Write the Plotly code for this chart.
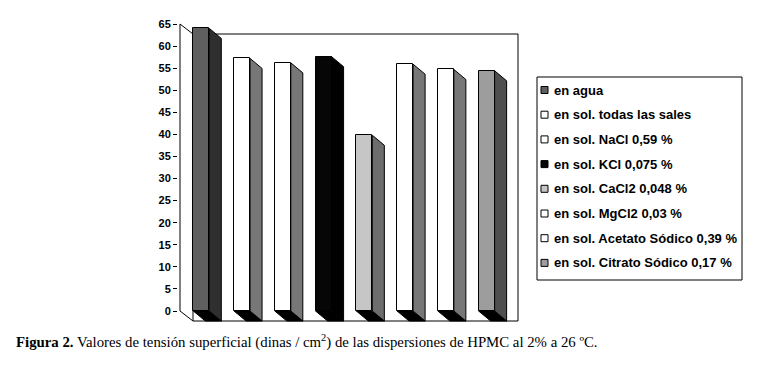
import plotly.graph_objects as go

# ---------------- data ----------------
categories = [
    "en agua",
    "en sol. todas las sales",
    "en sol. NaCl 0,59 %",
    "en sol. KCl 0,075 %",
    "en sol. CaCl2 0,048 %",
    "en sol. MgCl2 0,03 %",
    "en sol. Acetato Sódico 0,39 %",
    "en sol. Citrato Sódico 0,17 %",
]
values = [64.0, 57.2, 56.2, 57.6, 39.8, 55.9, 54.7, 54.4]
y_ticks = [0, 5, 10, 15, 20, 25, 30, 35, 40, 45, 50, 55, 60, 65]

# ---------------- style ----------------
front_colors = ["#5f5f5f", "#ffffff", "#ffffff", "#060606", "#c6c6c6", "#ffffff", "#ffffff", "#9d9d9d"]
side_colors = ["#2f2f2f", "#777777", "#777777", "#000000", "#6d6d6d", "#777777", "#777777", "#4f4f4f"]

W, H = 764, 369
OFF = 8  # page body margin: screen px -> figure px
PLOT_L, PLOT_R, PLOT_T, PLOT_B = 178 - OFF, 521 - OFF, 20 - OFF, 330 - OFF
Y0_PX, Y65_PX = 311 - OFF, 24 - OFF
PPU = (Y0_PX - Y65_PX) / 65.0          # pixels per value unit
X0_PX, XSTEP = 201.3 - OFF, 40.76      # centre of first bar front face, spacing
BAR_W = 16 / XSTEP                      # front face width in x units
DX = 12 / XSTEP                         # bar depth (x)
DY = 10 / PPU                           # bar depth (y)
AX_PX, WALL_L_PX, WALL_R_PX = 180 - OFF, 193 - OFF, 518 - OFF
pw, ph = PLOT_R - PLOT_L, PLOT_B - PLOT_T


def px2x(p):
    return (p - X0_PX) / XSTEP


def px_paper_x(p):  # p in screen px
    return (p - OFF - PLOT_L) / pw


def px_paper_y(p):  # p in screen px
    return (PLOT_B - (p - OFF)) / ph


xr = [px2x(PLOT_L), px2x(PLOT_R)]
yr = [(Y0_PX - PLOT_B) / PPU, (Y0_PX - PLOT_T) / PPU]
ymax = y_ticks[-1]

fig = go.Figure()

# bottom faces + side faces (3D effect), computed from the values
for i, v in enumerate(values):
    l, r = i - BAR_W / 2, i + BAR_W / 2
    fig.add_trace(go.Scatter(
        x=[l, r, r + DX, l + DX, l], y=[0, 0, -DY, -DY, 0],
        fill="toself", fillcolor="#000000", mode="lines",
        line=dict(color="black", width=1), showlegend=False, hoverinfo="skip"))
    fig.add_trace(go.Scatter(
        x=[r, r + DX, r + DX, r, r], y=[0, -DY, v - DY, v, 0],
        fill="toself", fillcolor=side_colors[i], mode="lines",
        line=dict(color="black", width=1), showlegend=False, hoverinfo="skip"))

# front faces
for i, (c, v) in enumerate(zip(categories, values)):
    fig.add_trace(go.Bar(
        x=[i], y=[v], width=BAR_W, name=c, showlegend=False,
        marker=dict(color=front_colors[i], line=dict(color="black", width=1))))

shapes = [
    # back wall
    dict(type="rect", xref="x", yref="y", x0=px2x(WALL_L_PX), x1=px2x(WALL_R_PX),
         y0=-DY, y1=ymax - DY, line=dict(color="black", width=1), fillcolor="white", layer="below"),
    # value axis
    dict(type="line", xref="x", yref="y", x0=px2x(AX_PX), x1=px2x(AX_PX), y0=0, y1=ymax,
         line=dict(color="black", width=1), layer="below"),
    dict(type="line", xref="x", yref="y", x0=px2x(AX_PX), x1=px2x(WALL_L_PX), y0=ymax, y1=ymax - DY,
         line=dict(color="black", width=1), layer="below"),
    dict(type="line", xref="x", yref="y", x0=px2x(AX_PX), x1=px2x(WALL_L_PX), y0=0, y1=-DY,
         line=dict(color="black", width=1), layer="below"),
    # legend box
    dict(type="rect", xref="paper", yref="paper", x0=px_paper_x(537), x1=px_paper_x(742),
         y0=px_paper_y(280), y1=px_paper_y(77), line=dict(color="black", width=1), fillcolor="white"),
]

# legend entries (swatch + label)
LEG_Y0, LEG_STEP = 90, 24.7
for i, c in enumerate(categories):
    yc = LEG_Y0 + LEG_STEP * i
    shapes.append(dict(type="rect", xref="paper", yref="paper",
                       x0=px_paper_x(541), x1=px_paper_x(548),
                       y0=px_paper_y(yc + 3.5), y1=px_paper_y(yc - 3.5),
                       line=dict(color="black", width=1), fillcolor=front_colors[i]))
    fig.add_annotation(xref="paper", yref="paper", x=px_paper_x(552), y=px_paper_y(yc),
                       xanchor="left", yanchor="middle", showarrow=False, text=c,
                       font=dict(family="Liberation Sans, Arial, sans-serif", size=13,
                                 color="black", weight="bold"))

fig.add_annotation(
    xref="paper", yref="paper", x=px_paper_x(14), y=px_paper_y(341),
    xanchor="left", yanchor="middle", showarrow=False,
    text="<b>Figura 2.</b> Valores de tensión superficial (dinas / cm<sup>2</sup>) de las dispersiones de HPMC al 2% a 26 ºC.",
    font=dict(family="Liberation Serif, Times New Roman, serif", size=14.8, color="black"))

fig.update_layout(
    width=W, height=H,
    margin=dict(l=PLOT_L, r=W - PLOT_R, t=PLOT_T, b=H - PLOT_B, pad=0, autoexpand=False),
    paper_bgcolor="white", plot_bgcolor="white",
    barmode="overlay", bargap=0,
    shapes=shapes,
    showlegend=False,
    xaxis=dict(range=xr, showgrid=False, zeroline=False, showline=False,
               showticklabels=False, ticks="", fixedrange=True),
    yaxis=dict(range=yr, tickvals=y_ticks, ticktext=[str(t) for t in y_ticks],
               showgrid=False, zeroline=False, showline=False,
               ticks="outside", ticklen=4, tickcolor="black", tickwidth=1,
               tickfont=dict(family="Liberation Sans, Arial, sans-serif", size=11,
                             color="black", weight="bold")),
)

fig.write_html("out.html")
